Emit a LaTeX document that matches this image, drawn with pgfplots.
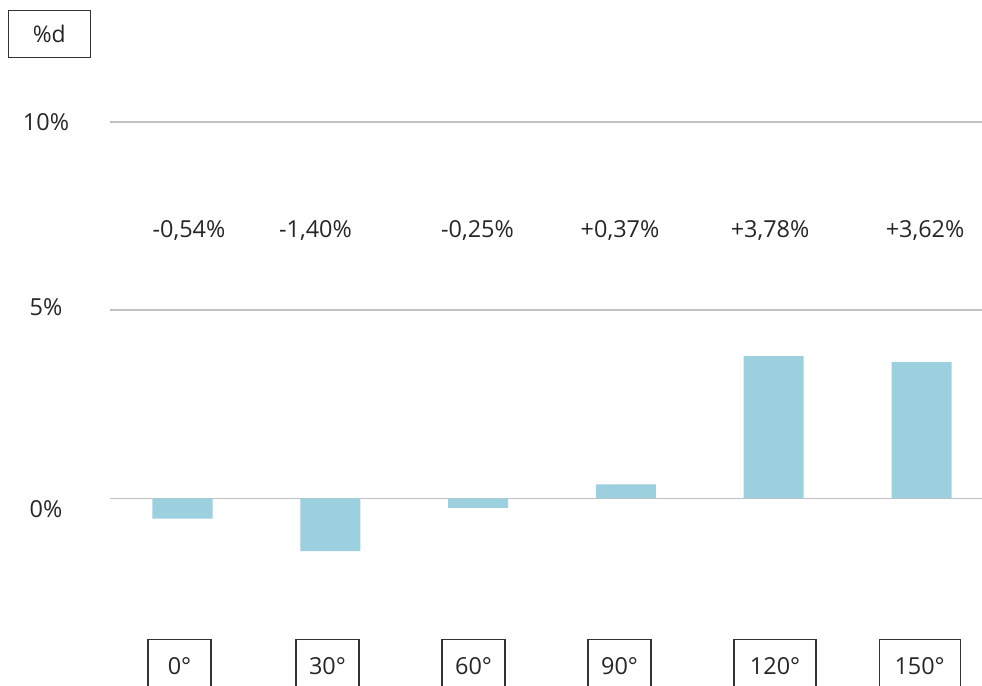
\documentclass[border=0pt]{standalone}
\usepackage{pgfplots}
\pgfplotsset{compat=1.18}
\usepackage{fontspec}
\setmainfont{Open Sans}
\definecolor{barblue}{RGB}{157,208,223}
\definecolor{gridgray}{RGB}{192,192,192}
\definecolor{boxgray}{RGB}{50,50,50}
\begin{document}
\begin{tikzpicture}
\begin{axis}[name=ax,
  scale only axis, width=872bp, height=686bp,
  xmin=-0.4905, xmax=5.409, ymin=-4.985, ymax=13.245,
  axis line style={draw=none}, tick style={draw=none},
  xtick=\empty, ytick={-5,0,5,10}, yticklabels={},
  ymajorgrids, grid style={gridgray, line width=1.6bp},
  clip=false,
  ybar, bar width=60bp,
]
\addplot[fill=barblue, draw=none] coordinates {(0,-0.54) (1,-1.40) (2,-0.25) (3,0.37) (4,3.78) (5,3.62)};
% y tick labels
\begin{scope}[every node/.style={anchor=base, font=\fontsize{23.5}{28}\selectfont, text=black!85}]
\node at (axis cs:-0.9235,9.787) {10\%};
\node at (axis cs:-0.9235,4.867) {5\%};
\node at (axis cs:-0.9235,-0.505) {0\%};
\end{scope}
% value labels
\begin{scope}[every node/.style={anchor=base, font=\fontsize{23.5}{28}\selectfont, text=black!85}]
\node at (axis cs:0.044,6.94) {-0,54\%};
\node at (axis cs:0.90,6.94) {-1,40\%};
\node at (axis cs:1.996,6.94) {-0,25\%};
\node at (axis cs:2.96,6.94) {+0,37\%};
\node at (axis cs:3.975,6.94) {+3,78\%};
\node at (axis cs:5.024,6.94) {+3,62\%};
\end{scope}
% category boxes
\begin{scope}[every node/.style={draw=boxgray, line width=1.2bp, fill=white, anchor=center, minimum height=54bp, minimum width=63bp, inner sep=0pt, font=\fontsize{23.5}{28}\selectfont, text=black!85}]
\node at (axis cs:-0.0203,-4.468) {0°};
\node at (axis cs:0.981,-4.468) {30°};
\node at (axis cs:1.969,-4.468) {60°};
\node at (axis cs:2.957,-4.468) {90°};
\node[minimum width=82bp] at (axis cs:4.009,-4.468) {120°};
\node[minimum width=81bp] at (axis cs:4.987,-4.468) {150°};
\end{scope}
\node[draw=boxgray, line width=1.2bp, fill=white, minimum width=82bp, minimum height=47bp, inner sep=0pt, font=\fontsize{23}{27}\selectfont, text=black!85] at (axis cs:-0.9012,12.34) {\%d};
\end{axis}
\pgfresetboundingbox
\path[use as bounding box] ([xshift=-110bp]ax.south west) rectangle (ax.north east);
\end{tikzpicture}
\end{document}
